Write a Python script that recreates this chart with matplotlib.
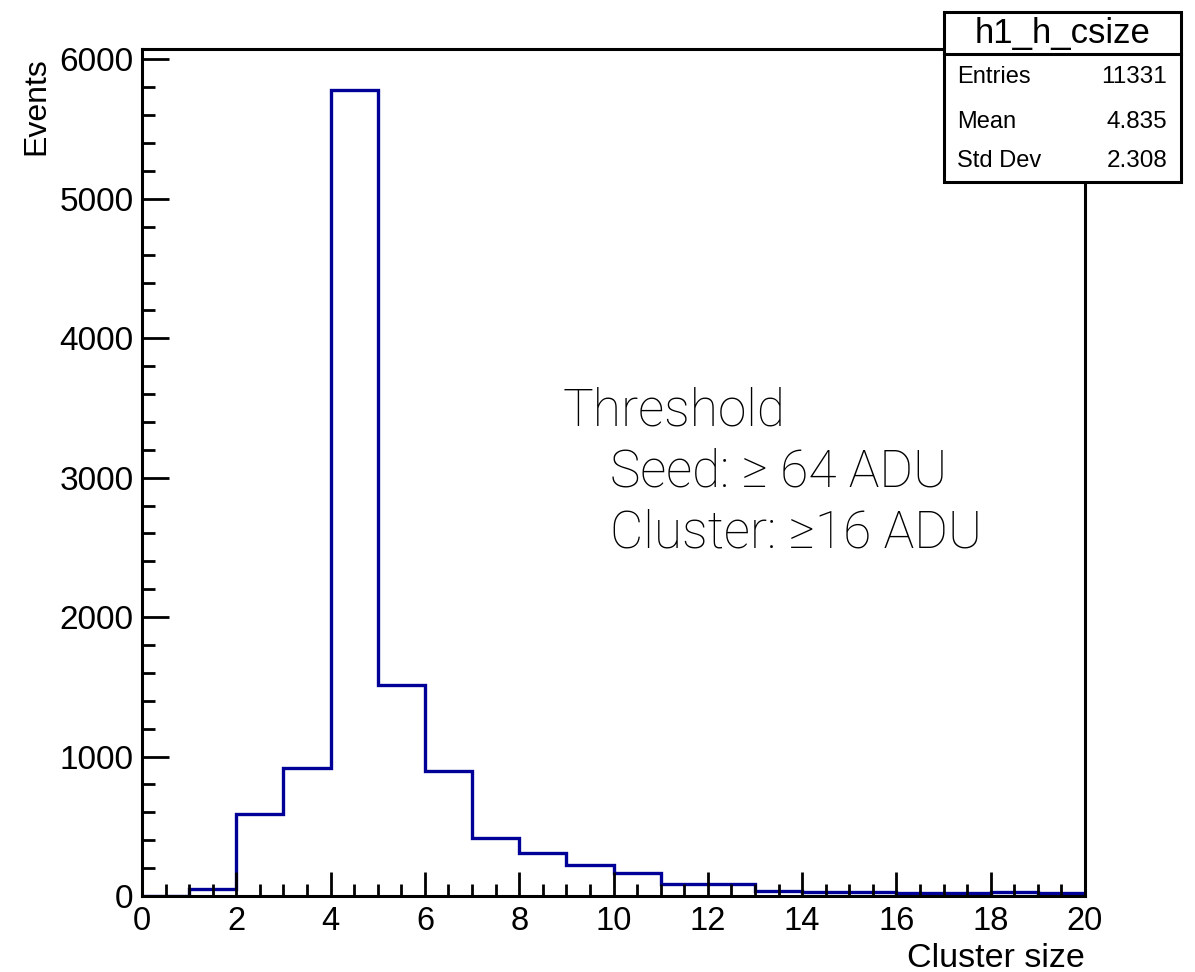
import numpy as np
import matplotlib
matplotlib.use("Agg")
import matplotlib.pyplot as plt
from matplotlib.patches import Rectangle
from matplotlib.ticker import MultipleLocator

# ---- data ----
bin_edges = list(range(0, 21))
counts = [0, 48, 589, 919, 5781, 1510, 900, 414, 309, 222,
          163, 88, 84, 38, 31, 31, 20, 20, 26, 18]
hist_name = "h1_h_csize"
stat_labels = ["Entries", "Mean", "Std Dev"]
stat_values = ["11331", "4.835", "2.308"]
x_label = "Cluster size"
y_label = "Events"
annot_lines = ["Threshold", "Seed: \u2265 64 ADU", "Cluster: \u226516 ADU"]

plt.rcParams['font.family'] = ['Liberation Sans', 'DejaVu Sans']

W, H = 1195, 972
fig = plt.figure(figsize=(W / 100, H / 100), dpi=100)
ax = fig.add_axes([142 / W, 1 - 896 / H, (1085 - 142) / W, (896 - 49) / H])

ax.stairs(counts, bin_edges, color='#000099', lw=2.4, baseline=0)

ax.set_xlim(0, 20)
ax.set_ylim(0, 6075)

ax.xaxis.set_major_locator(MultipleLocator(2))
ax.xaxis.set_minor_locator(MultipleLocator(0.5))
ax.yaxis.set_major_locator(MultipleLocator(1000))
ax.yaxis.set_minor_locator(MultipleLocator(200))

for s in ax.spines.values():
    s.set_linewidth(2.2)
    s.set_color('black')

ax.tick_params(axis='both', which='both', direction='in', width=2.0,
               top=False, right=False)
ax.tick_params(axis='x', which='major', length=17, labelsize=23.5, pad=7)
ax.tick_params(axis='x', which='minor', length=8.7)
ax.tick_params(axis='y', which='major', length=19.5, labelsize=24, pad=6)
ax.tick_params(axis='y', which='minor', length=9.5)

ax.set_xlabel(x_label, fontsize=24.5, loc='right')
ax.xaxis.set_label_coords(1.0, -0.055)
ax.set_ylabel(y_label, fontsize=23, loc='top')
ax.yaxis.set_label_coords(-0.096, 0.99)

# annotation text (light font)
tx = (563 - 142) / 943
fam = ['Roboto', 'Liberation Sans', 'DejaVu Sans']
y0 = (896 - 425) / 847
dy = 61 / 847
for i, line in enumerate(annot_lines):
    x = tx if i == 0 else (610 - 142) / 943
    ax.text(x, y0 - i * dy, line, transform=ax.transAxes, fontsize=37,
            family=fam, fontweight='light', va='baseline', ha='left',
            color='black')

# stats box
bx0, bx1 = 944 / W, 1181 / W
by_top, by_sep, by_bot = 1 - 12 / H, 1 - 54 / H, 1 - 182 / H
fig.patches.append(Rectangle((bx0, by_bot), bx1 - bx0, by_top - by_bot,
                             transform=fig.transFigure, facecolor='white',
                             edgecolor='black', lw=2.2, zorder=5))
fig.lines.append(plt.Line2D([bx0, bx1], [by_sep, by_sep],
                            transform=fig.transFigure, color='black',
                            lw=2.2, zorder=6))
fig.text((bx0 + bx1) / 2, 1 - 33 / H, hist_name, fontsize=25,
         ha='center', va='center', zorder=7)
row_y = [77, 122, 161]
for lab, val, ry in zip(stat_labels, stat_values, row_y):
    fig.text(957 / W, 1 - ry / H, lab, fontsize=17, ha='left',
             va='center', zorder=7)
    fig.text(1167 / W, 1 - ry / H, val, fontsize=17.5, ha='right',
             va='center', zorder=7)

fig.savefig('out.png', dpi=100)
